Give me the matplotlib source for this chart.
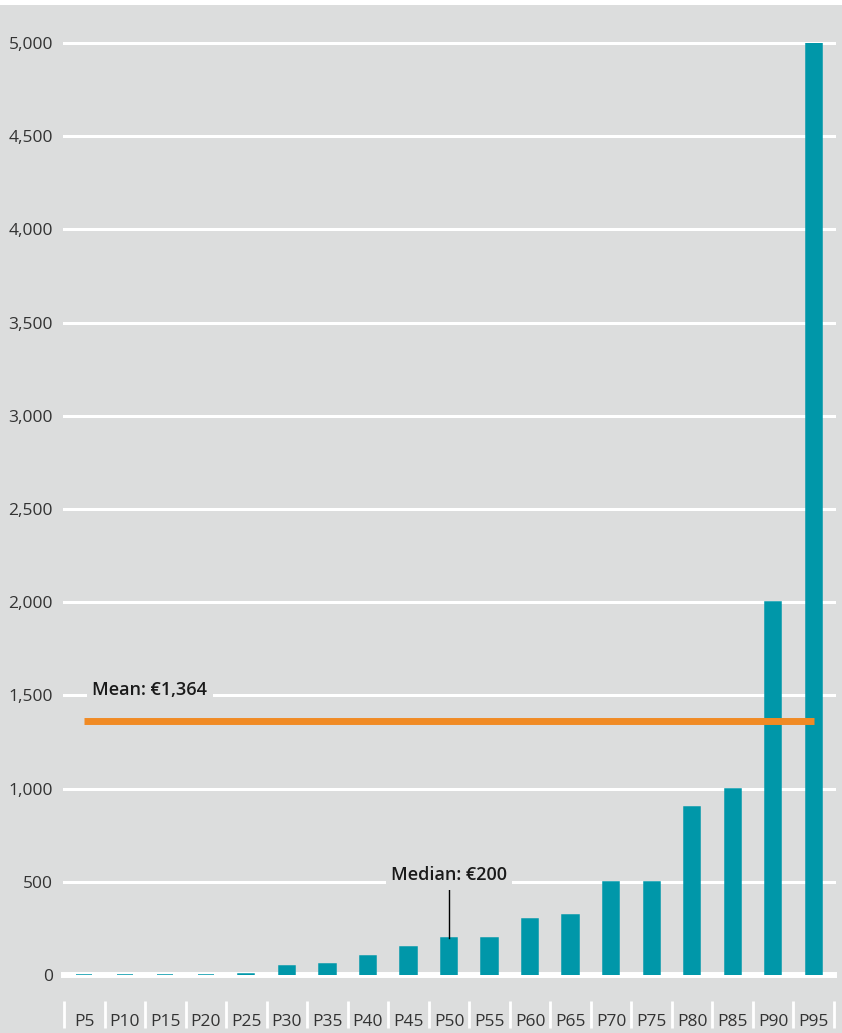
import matplotlib.pyplot as plt
from matplotlib.patches import Rectangle
from matplotlib.ticker import FuncFormatter

# data
labels = ['P5', 'P10', 'P15', 'P20', 'P25', 'P30', 'P35', 'P40', 'P45', 'P50',
          'P55', 'P60', 'P65', 'P70', 'P75', 'P80', 'P85', 'P90', 'P95']
values = [0, 0, 0, 0, 5, 50, 60, 100, 150, 200,
          200, 300, 320, 500, 500, 900, 1000, 2000, 5000]
mean_value = 1364
median_value = 200
median_idx = labels.index('P50')
yticks = list(range(0, 5001, 500))

bg = '#dcdddd'
teal = '#0097a9'
orange = '#f08a24'

plt.rcParams['font.family'] = ['Open Sans', 'DejaVu Sans']

fig = plt.figure(figsize=(8.42, 10.33), dpi=100)
fig.patch.set_facecolor(bg)
# thin white strip at the very top
fig.add_artist(Rectangle((0, 1 - 5 / 1033), 1, 5 / 1033, transform=fig.transFigure,
                         facecolor='white', edgecolor='none'))

ax = fig.add_axes([64 / 842, 58 / 1033, 770 / 842, 932 / 1033])
ax.set_facecolor(bg)
for s in ax.spines.values():
    s.set_visible(False)

x = list(range(len(labels)))
ax.bar(x, values, width=0.4, color=teal, edgecolor=teal, linewidth=1.1, zorder=4)

ax.set_xlim(-0.5, len(labels) - 0.5)
ax.set_ylim(0, 5000)

# gridlines
for v in yticks[1:]:
    ax.axhline(v, color='white', lw=2.2, zorder=1, clip_on=False)
ax.axhline(0, color='white', lw=4.3, zorder=3, clip_on=False)

ax.set_yticks(yticks)
ax.yaxis.set_major_formatter(FuncFormatter(lambda v, p: f'{int(v):,}'))
ax.tick_params(axis='y', length=0, pad=8, labelsize=12.5, labelcolor='#333333')

ax.set_xticks(x)
ax.set_xticklabels(labels)
ax.tick_params(axis='x', length=0, pad=28, labelsize=12.5, labelcolor='#333333')

# category separators below the axis
trans = ax.get_xaxis_transform()
seps = [i - 0.5 for i in range(len(labels) + 1)]
ax.vlines(seps, -26 / 932, -53 / 932, transform=trans, color='white', lw=2,
          clip_on=False)

# mean line
ax.plot([x[0], x[-1]], [mean_value, mean_value], color=orange, lw=5, zorder=5,
        solid_capstyle='butt')
ax.text(x[0] + 0.2, 1530, 'Mean: €1,364', ha='left', va='center', fontsize=13,
        fontweight='semibold', color='#1a1a1a', zorder=6,
        bbox=dict(boxstyle='square,pad=0.3', facecolor=bg, edgecolor='none'))

# median annotation
ax.plot([median_idx, median_idx], [median_value, 456], color='black', lw=1, zorder=5)
ax.text(median_idx, 536, 'Median: €200', ha='center', va='center', fontsize=13,
        fontweight='semibold', color='#1a1a1a', zorder=6,
        bbox=dict(boxstyle='square,pad=0.3', facecolor=bg, edgecolor='none'))

fig.savefig('out.png', dpi=100, facecolor=fig.get_facecolor())
